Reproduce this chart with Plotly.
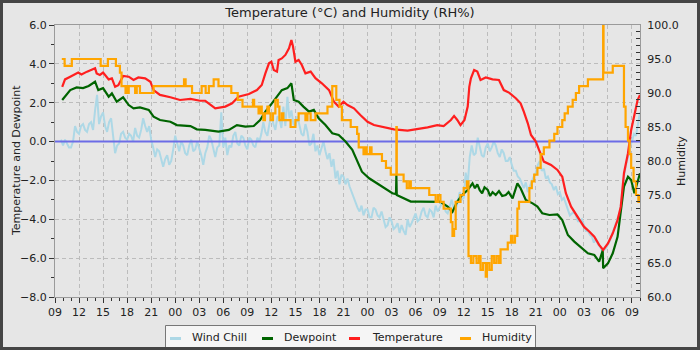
import pandas as pd
import plotly.graph_objects as go

START = pd.Timestamp("2021-01-08 09:00")
SPAN_HOURS = 73.0

# Temperature (°C): hours after start / reading
temp_hours = [0.9, 1.25, 1.9, 2.9, 3.3, 4.0, 5.0, 5.2, 5.6, 6.0, 6.7, 7.1, 7.5, 7.9,
              8.5, 9.2, 9.8, 10.4, 11.25, 11.9, 12.3, 13.1, 14.4, 15.6, 16.9, 18.1,
              18.75, 20.0, 21.25, 22.1, 22.9, 24.2, 25.2, 25.8, 26.25, 26.7, 27.0,
              27.3, 27.7, 27.9, 28.3, 28.75, 29.2, 29.5, 29.7, 30.0, 30.4, 30.8,
              31.25, 31.9, 32.5, 33.3, 34.2, 34.8, 35.4, 36.0, 36.5, 37.3, 38.1,
              39.0, 39.8, 41.0, 42.3, 44.0, 45.2, 46.5, 47.7, 48.5, 49.4, 49.8,
              50.2, 50.6, 51.1, 51.5, 51.7, 51.9, 52.3, 52.7, 53.1, 53.75, 54.6,
              55.4, 56.0, 56.7, 57.5, 58.1, 58.5, 59.0, 59.4, 60.0, 60.4, 61.0,
              61.9, 62.7, 63.3, 63.75, 64.4, 65.2, 66.0, 66.7, 67.3, 67.9, 68.4,
              69.0, 69.6, 70.2, 70.6, 71.0, 71.5, 71.9, 72.3, 72.7, 73.0]
temp_values = [2.82, 3.2, 3.34, 3.55, 3.45, 3.6, 3.77, 3.51, 3.43, 3.55, 3.2, 3.25, 2.82, 2.9,
               3.38, 3.34, 3.17, 3.3, 3.25, 3.08, 2.65, 2.4, 2.28, 2.14, 2.2, 2.1,
               2.1, 1.71, 1.8, 1.97, 2.31, 2.45, 2.65, 2.91, 3.51, 4.03, 4.11,
               3.68, 3.6, 4.2, 4.28, 4.46, 4.8, 5.23, 4.89, 4.11, 4.2, 3.94,
               3.51, 3.6, 3.26, 3.0, 2.65, 2.05, 1.8, 2.05, 1.88, 1.71, 1.37,
               1.02, 0.85, 0.73, 0.63, 0.56, 0.63, 0.73, 0.85, 0.8, 1.11, 1.32,
               1.11, 0.85, 1.11, 1.8, 2.82, 3.26, 3.68, 3.6, 3.17, 3.3, 3.2,
               3.17, 2.65, 2.51, 2.23, 1.97, 1.54, 0.94, 0.34, 0.0, -0.43, -1.03,
               -1.2, -1.46, -1.81, -2.66, -3.35, -3.87, -4.38, -4.64, -4.9, -5.32, -5.58,
               -5.24, -4.72, -4.04, -3.35, -1.63, -0.6, 0.6, 1.46, 2.14, 2.4]

# Dewpoint (°C)
dew_hours = [0.9, 1.25, 1.9, 2.7, 3.5, 4.2, 5.0, 5.4, 6.0, 6.7, 7.1, 7.7, 8.5, 9.2,
             9.8, 10.6, 11.7, 12.3, 13.1, 14.4, 15.2, 16.9, 17.7, 18.75, 20.4,
             21.7, 22.7, 23.75, 24.8, 25.6, 26.25, 26.9, 27.7, 28.3, 29.0, 29.5,
             29.8, 30.4, 31.0, 31.7, 32.3, 32.9, 33.75, 34.6, 35.4, 36.25, 37.1,
             37.7, 38.3, 39.2, 40.2, 41.25, 42.1, 42.55, 42.6, 42.65, 43.1, 44.4,
             45.6, 46.9, 48.1, 49.0, 49.6, 50.2, 50.8, 51.5, 52.1, 52.4, 52.7,
             53.0, 53.3, 53.6, 54.0, 54.3, 54.6, 55.0, 55.4, 55.8, 56.25, 56.6,
             57.1, 57.7, 58.1, 58.75, 59.6, 60.2, 60.8, 61.7, 62.7, 63.3, 64.0,
             64.8, 65.6, 66.5, 67.3, 67.9, 68.35, 68.4, 69.0, 69.6, 70.2, 70.6,
             71.0, 71.5, 71.9, 72.3, 72.6, 73.0]
dew_values = [2.14, 2.31, 2.65, 2.79, 2.75, 2.86, 3.08, 2.65, 2.75, 2.31, 2.48, 2.05, 2.28, 1.88,
              1.71, 1.76, 1.63, 1.28, 1.11, 1.02, 0.85, 0.8, 0.63, 0.6, 0.51,
              0.6, 0.85, 0.77, 0.8, 1.11, 1.54, 1.88, 2.31, 2.65, 2.75, 3.0,
              2.14, 2.05, 1.8, 1.54, 1.63, 1.2, 0.85, 0.43, 0.34, 0.0, -0.43,
              -0.95, -1.55, -1.89, -2.15, -2.4, -2.66, -2.7, -1.72, -2.75, -2.83, -3.09,
              -3.09, -3.1, -3.1, -3.35, -3.61, -3.09, -2.75, -2.49, -2.15, -2.4, -2.2,
              -2.5, -2.66, -2.35, -2.49, -2.8, -2.6, -2.75, -2.55, -2.8, -2.75, -2.6,
              -2.92, -2.15, -2.4, -3.0, -3.18, -3.35, -3.69, -3.78, -3.75, -4.04, -4.81,
              -5.15, -5.41, -5.75, -5.84, -6.18, -5.6, -6.52, -6.27, -5.75, -4.9, -3.69,
              -2.32, -1.81, -1.98, -2.66, -2.15, -1.63]

# Wind chill (°C), one reading every 15 minutes from 09:45 on the first day
CHILL_FIRST_HOUR = 0.75
CHILL_STEP_MIN = 15
chill_values = [0.1,
                -0.2, 0.1, -0.1, -0.3, -0.3, 0.0, 0.8, 0.5,
                0.4, 0.8, 0.9, 0.6, 0.5, 0.9, 1.0, 0.6,
                1.6, 2.4, 0.9, 1.3, 1.5, 0.8, 0.5, 1.0,
                1.2, 0.2, -0.6, -0.2, -0.1, 0.4, 0.5, 0.2,
                0.1, 0.4, 0.3, 0.0, 0.7, 0.3, 0.2, 0.6,
                1.2, 0.8, 0.5, 0.8, 0.1, -0.3, -0.8, -0.4,
                -0.5, -0.9, -1.3, -0.9, -0.7, -1.2, -1.0, -0.4,
                0.3, -0.1, -0.5, 0.0, -0.2, -0.6, -0.7, -0.2,
                0.1, -0.5, -0.4, 0.0, -0.3, -0.7, -1.2, -0.6,
                -0.3, 0.3, 0.1, -0.4, -0.8, -0.3, -0.2, 1.5,
                -0.3, 0.2, -0.7, -0.2, -0.3, 0.3, 0.5, -0.1,
                -0.2, 0.3, 0.2, -0.2, -0.4, 0.2, 0.1, -0.2,
                -0.3, 0.2, 0.0, 0.4, 1.0, 0.5, 0.3, 0.9,
                1.5, 0.9, 0.6, 1.3, 1.2, 0.7, 1.8, 0.8,
                2.3, 1.2, 1.6, 0.9, 0.8, 1.3, 0.9, 0.4,
                0.3, 0.9, 0.5, -0.2, -0.1, 0.4, -0.5, -0.2,
                -0.7, -0.3, 0.0, -0.5, -0.9, -0.6, -1.3, -0.9,
                -1.9, -1.5, -2.2, -1.7, -1.8, -2.2, -1.9, -2.3,
                -2.6, -2.9, -3.1, -3.4, -3.6, -3.3, -3.8, -3.5,
                -3.5, -3.9, -3.9, -3.4, -3.5, -3.8, -3.9, -3.6,
                -4.0, -4.4, -4.3, -3.9, -4.1, -4.5, -4.4, -4.2,
                -4.7, -4.3, -4.6, -4.8, -4.0, -4.4, -4.2, -3.9,
                -3.7, -4.1, -4.0, -3.6, -3.4, -3.8, -3.9, -3.5,
                -3.6, -3.9, -3.3, -3.6, -3.4, -3.2, -3.2, -3.6,
                -3.7, -3.3, -3.0, -3.4, -3.5, -3.1, -2.6, -3.0,
                -2.9, -1.6, -2.2, -0.8, -0.2, -0.7, -0.6, 0.2,
                -0.3, -0.7, -0.8, -0.3, -0.1, -0.5, -0.3, 0.0,
                -0.2, -0.6, -0.8, -0.4, -0.6, -1.0, -1.0, -0.8,
                -1.2, -1.5, -1.5, -1.8, -1.9, -2.2, -2.4, -2.1,
                -2.6, -2.3, -2.0, -1.8, -1.6, -1.2, -1.0, -1.5,
                -1.4, -1.9, -1.8, -2.1, -2.2, -2.5, -2.3, -2.7,
                -2.6, -3.0, -2.9, -3.2, -3.4, -3.8, -3.7, -3.6,
                -3.8, -4.1, -4.1, -4.0, -4.3, -4.6, -4.6, -4.8,
                -4.9, -5.2, -5.0, -5.3, -5.4, -5.6, -5.6, -5.5,
                -5.3, -5.1, -4.8, -4.5, -4.3, -4.0, -3.6, -2.8,
                -1.8, -1.2, -0.8, -0.2, 0.0, 0.4, 0.3, 0.9,
                1.5]

# Relative humidity (%), held until the next reading
rh_hours = [0.85, 1.2, 2.1, 5.7, 6.6, 7.6, 8.1, 8.3, 8.8, 8.95, 9.05, 9.2, 10.0, 10.2,
            10.6, 12.3, 16.1, 16.3, 17.1, 18.3, 18.8, 19.2, 19.8, 20.4, 22.0, 22.8,
            23.4, 24.7, 24.85, 25.4, 25.6, 25.8, 26.0, 26.2, 26.5, 26.7, 26.9, 27.2,
            27.5, 27.8, 28.0, 28.3, 28.5, 29.4, 30.0, 30.4, 31.25, 31.5, 31.9, 32.5,
            34.0, 34.6, 35.1, 35.5, 35.8, 36.9, 37.7, 37.9, 38.5, 38.7, 38.9, 39.3,
            39.5, 40.8, 41.3, 41.9, 42.6, 42.65, 43.5, 43.9, 44.2, 44.4, 46.7, 47.5,
            47.8, 48.1, 48.5, 49.4, 49.6, 49.8, 50.0, 50.6, 51.0, 51.4, 51.6, 51.9,
            52.2, 52.6, 52.9, 53.1, 53.4, 53.75, 53.9, 54.2, 54.5, 54.8, 55.1, 55.4,
            55.6, 56.5, 56.9, 57.1, 57.4, 57.7, 57.9, 59.2, 59.5, 59.8, 60.2, 60.6,
            61.0, 61.7, 62.3, 62.7, 63.3, 63.6, 64.0, 64.6, 65.0, 65.4, 66.5, 68.4,
            68.45, 69.6, 71.0, 71.2, 71.5, 71.7, 71.9, 72.2, 72.5, 72.8, 73.0]
rh_values = [95, 94, 95, 94, 95, 94, 93, 91, 90, 91, 90, 91, 90, 91,
             90, 91, 92, 91, 90, 91, 90, 91, 92, 91, 90, 89,
             88, 89, 88, 87, 88, 87, 86, 87, 88, 87, 86, 87,
             89, 88, 86, 87, 86, 85, 86, 87, 86, 87, 86, 87,
             88, 91, 89, 88, 86, 85, 84, 82, 81, 82, 81, 82,
             81, 80, 79, 78, 85, 78, 77, 76, 77, 76, 75, 74,
             75, 74, 73, 71, 69, 70, 74, 75, 76, 77, 66, 65,
             66, 65, 66, 64, 65, 63, 65, 64, 66, 65, 66, 65,
             67, 68, 69, 68, 69, 73, 74, 76, 77, 78, 79, 81,
             82, 83, 84, 85, 86, 87, 88, 89, 90, 91, 92, 100,
             93, 94, 88, 85, 83, 81, 79, 77, 75, 74, 75]

TEMP_RANGE = [-8, 6]
RH_RANGE = [60, 100]

FONT = "DejaVu Sans"
BG = "#e6e6e6"
GRID = "#bcbcbc"
FRAME = "#9a9a9a"
TEXT = "#222222"

C_CHILL = "#add8e6"
C_DEW = "#006400"
C_TEMP = "#ff1f1f"
C_RH = "#ffa500"
C_ZERO = "#6c6ce6"


def stamp(hours):
    return START + pd.to_timedelta(hours, unit="h")


end_time = START + pd.Timedelta(hours=SPAN_HOURS)
chill_times = pd.date_range(START + pd.Timedelta(hours=CHILL_FIRST_HOUR),
                            periods=len(chill_values), freq=f"{CHILL_STEP_MIN}min")

fig = go.Figure()
fig.add_trace(go.Scatter(x=chill_times, y=chill_values, name="Wind Chill",
                         mode="lines", line=dict(color=C_CHILL, width=2)))
fig.add_trace(go.Scatter(x=[START, end_time], y=[0, 0], mode="lines", showlegend=False,
                         hoverinfo="skip", line=dict(color=C_ZERO, width=2)))
fig.add_trace(go.Scatter(x=stamp(dew_hours), y=dew_values, name="Dewpoint",
                         mode="lines", line=dict(color=C_DEW, width=2.2)))
fig.add_trace(go.Scatter(x=stamp(temp_hours), y=temp_values, name="Temperature",
                         mode="lines", line=dict(color=C_TEMP, width=2.2)))
fig.add_trace(go.Scatter(x=stamp(rh_hours), y=rh_values, name="Humidity", yaxis="y2",
                         mode="lines", line=dict(color=C_RH, width=2.2, shape="hv")))

# Plot area in pixels
L, R, T, B = 55, 640, 25, 297
W, H = 700, 350


def px(xp):
    return (xp - L) / (R - L)


def py(yp):
    return (B - yp) / (B - T)


shapes = []
annotations = []

# Axis titles
annotations.append(dict(text="Temperature and Dewpoint", xref="paper", yref="paper",
                        x=px(16), y=py(161), textangle=-90, showarrow=False,
                        xanchor="center", yanchor="middle",
                        font=dict(family=FONT, size=11, color=TEXT)))
annotations.append(dict(text="Humidity", xref="paper", yref="paper",
                        x=px(681), y=py(161), textangle=-90, showarrow=False,
                        xanchor="center", yanchor="middle",
                        font=dict(family=FONT, size=11, color=TEXT)))

# Legend panel drawn by hand so the keys stay short
shapes.append(dict(type="rect", xref="paper", yref="paper", x0=px(165.5), x1=px(535.5),
                   y0=py(352), y1=py(325.5), line=dict(color="#777777", width=1),
                   fillcolor="#f5f5f5", layer="above"))
legend_items = [("Wind Chill", C_CHILL, 170, 190), ("Dewpoint", C_DEW, 262, 282),
                ("Temperature", C_TEMP, 349, 370), ("Humidity", C_RH, 460, 480)]
for label, color, key_x, text_x in legend_items:
    shapes.append(dict(type="line", xref="paper", yref="paper", x0=px(key_x), x1=px(key_x + 11),
                       y0=py(338.5), y1=py(338.5), line=dict(color=color, width=3), layer="above"))
    annotations.append(dict(text=label, xref="paper", yref="paper", x=px(text_x), y=py(337.5),
                            xanchor="left", yanchor="middle", showarrow=False,
                            font=dict(family=FONT, size=11, color=TEXT)))

# Outer frame of the image
shapes.append(dict(type="rect", xref="paper", yref="paper", x0=px(1.5), x1=px(W - 1.5),
                   y0=py(H - 1.5), y1=py(1.5), line=dict(color="#454545", width=3),
                   fillcolor="rgba(0,0,0,0)", layer="above"))

tick_font = dict(family=FONT, size=11, color=TEXT)

fig.update_layout(
    width=W, height=H,
    margin=dict(l=L, r=W - R, t=T, b=H - B, pad=0),
    paper_bgcolor=BG, plot_bgcolor=BG,
    showlegend=False,
    title=dict(text="Temperature (°C) and Humidity (RH%)", x=0.5, xref="container",
               y=1 - 12.5 / H, yref="container", xanchor="center", yanchor="middle",
               font=dict(family=FONT, size=13, color=TEXT)),
    xaxis=dict(type="date", range=[START, end_time], tickformat="%H", automargin=False,
               tick0=START, dtick=3 * 3600000, ticks="outside", ticklen=5, tickwidth=1,
               tickcolor="#333333", showline=True, linecolor=FRAME, linewidth=1, mirror=True,
               showgrid=True, gridcolor=GRID, griddash="4px,3px", gridwidth=1,
               tickfont=tick_font, zeroline=False,
               minor=dict(dtick=3600000, tick0=START, ticks="outside", ticklen=3,
                          tickcolor="#333333", showgrid=False)),
    yaxis=dict(range=TEMP_RANGE, dtick=2, tick0=0, tickformat=".1f", ticks="outside",
               automargin=False,
               ticklen=5, tickcolor="#333333", showline=True, linecolor=FRAME, mirror=True,
               showgrid=True, gridcolor=GRID, griddash="4px,3px", gridwidth=1,
               zeroline=False, tickfont=tick_font,
               minor=dict(dtick=1, ticks="outside", ticklen=3, tickcolor="#333333",
                          showgrid=False)),
    yaxis2=dict(range=RH_RANGE, dtick=5, tick0=60, tickformat=".1f", overlaying="y",
                automargin=False,
                side="right", ticks="inside", ticklen=4, tickcolor="#333333",
                showline=True, linecolor=FRAME, showgrid=False, zeroline=False,
                tickfont=tick_font, ticklabelstandoff=4,
                minor=dict(dtick=1, ticks="inside", ticklen=4, tickcolor="#333333",
                           showgrid=False)),
    shapes=shapes,
    annotations=annotations,
    hovermode=False,
)

fig.write_html("out.html")
